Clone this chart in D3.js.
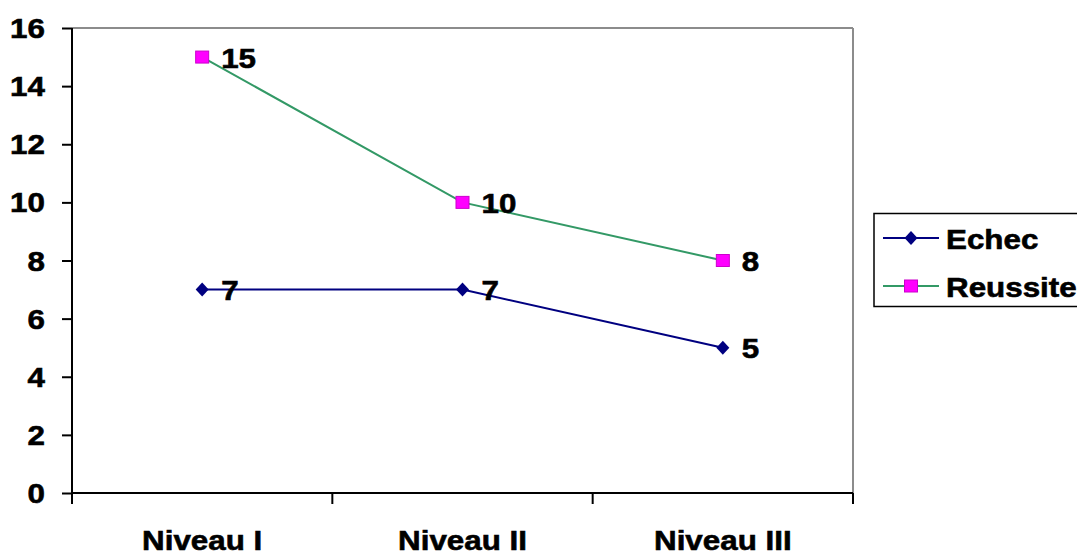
<!DOCTYPE html>
<html><head><meta charset="utf-8">
<script src="https://cdn.jsdelivr.net/npm/d3@7"></script>
<style>
html,body{margin:0;padding:0;background:#fff;}
text{font-family:"Liberation Sans",Arial,sans-serif;font-weight:bold;fill:#000;stroke:#000;stroke-width:0.6px;}
</style></head>
<body><svg id="c" width="1077" height="556"></svg>
<script>
const categories = ["Niveau I", "Niveau II", "Niveau III"];
const echec = [7, 7, 5];
const reussite = [15, 10, 8];
const yTicks = [0, 2, 4, 6, 8, 10, 12, 14, 16];
const seriesNames = ["Echec", "Reussite"];

const svg = d3.select("#c");
const L = 72, R = 853, T = 28, B = 493;
const FS = 28, SX = 1.12;

const x = d3.scaleBand().domain(categories).range([L, R]).padding(0);
const y = d3.scaleLinear().domain([0, 16]).range([B, T]);

function txt(g, s, px, py, anchor) {
  return g.append("text")
    .attr("transform", `translate(${px},${py}) scale(${SX},1)`)
    .attr("text-anchor", anchor || "start")
    .style("font-size", FS + "px")
    .text(s);
}

// plot frame (grey top & right)
svg.append("line").attr("x1", L).attr("x2", R).attr("y1", T).attr("y2", T)
  .attr("stroke", "#8c8c8c").attr("stroke-width", 2);
svg.append("line").attr("x1", R).attr("x2", R).attr("y1", T).attr("y2", B)
  .attr("stroke", "#8c8c8c").attr("stroke-width", 2);

// Y axis
const yAx = svg.append("g").attr("transform", `translate(${L},0)`)
  .call(d3.axisLeft(y).tickValues(yTicks).tickSize(10).tickFormat(""));
yAx.select(".domain").attr("stroke", "#000").attr("stroke-width", 2).attr("d", `M0,${T}V${B}`);
yAx.selectAll(".tick line").attr("stroke", "#000").attr("stroke-width", 2);
yTicks.forEach(v => txt(svg, String(v), 45, y(v) + 10, "end"));

// X axis
const xAx = svg.append("g").attr("transform", `translate(0,${B})`)
  .call(d3.axisBottom(x).tickSize(0).tickFormat(""));
xAx.select(".domain").attr("stroke", "#000").attr("stroke-width", 2).attr("d", `M${L},0H${R}`);
const xEdges = [L].concat(categories.map(c => x(c) + x.bandwidth()));
xAx.selectAll(".edge").data(xEdges).enter().append("line")
  .attr("x1", d => d).attr("x2", d => d).attr("y1", 0).attr("y2", 11)
  .attr("stroke", "#000").attr("stroke-width", 2);
categories.forEach(c => txt(svg, c, x(c) + x.bandwidth() / 2, 550, "middle"));

const cx = c => x(c) + x.bandwidth() / 2;
const line = d3.line().x((d, i) => cx(categories[i])).y(d => y(d));

function diamond(g, px, py) {
  g.append("path").attr("d", `M${px},${py - 7}L${px + 6.5},${py}L${px},${py + 7}L${px - 6.5},${py}Z`)
    .attr("fill", "#000080");
}
function square(g, px, py) {
  g.append("rect").attr("x", px - 6.5).attr("y", py - 6).attr("width", 13).attr("height", 12)
    .attr("fill", "#ff00ff").attr("stroke", "#cc00cc").attr("stroke-width", 1);
}

// Reussite
svg.append("path").datum(reussite).attr("d", line).attr("fill", "none")
  .attr("stroke", "#339966").attr("stroke-width", 2);
// Echec
svg.append("path").datum(echec).attr("d", line).attr("fill", "none")
  .attr("stroke", "#000080").attr("stroke-width", 2);

echec.forEach((v, i) => diamond(svg, cx(categories[i]), y(v)));
reussite.forEach((v, i) => square(svg, cx(categories[i]), y(v)));

echec.forEach((v, i) => txt(svg, String(v), cx(categories[i]) + 19, y(v) + 10.5));
reussite.forEach((v, i) => txt(svg, String(v), cx(categories[i]) + 19, y(v) + 10.5));

// Legend
svg.append("rect").attr("x", 874).attr("y", 213.5).attr("width", 210).attr("height", 93)
  .attr("fill", "#fff").attr("stroke", "#000").attr("stroke-width", 1.5);
const legY = [238, 286];
svg.append("line").attr("x1", 883).attr("x2", 939).attr("y1", legY[0]).attr("y2", legY[0])
  .attr("stroke", "#000080").attr("stroke-width", 2);
diamond(svg, 911, legY[0]);
svg.append("line").attr("x1", 883).attr("x2", 939).attr("y1", legY[1]).attr("y2", legY[1])
  .attr("stroke", "#339966").attr("stroke-width", 2);
square(svg, 911, legY[1]);
seriesNames.forEach((s, i) => txt(svg, s, 946, legY[i] + 10.5));
</script></body></html>
